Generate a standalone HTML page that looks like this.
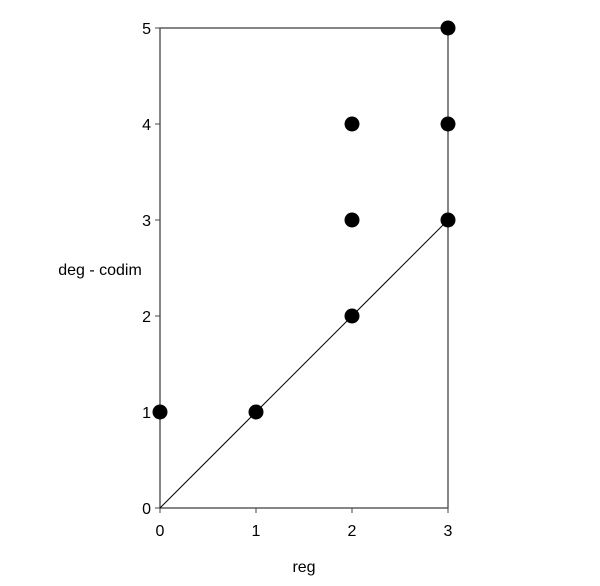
<!DOCTYPE html>
<html><head><meta charset="utf-8"><style>body{margin:0;background:#fff}svg{display:block;font-family:"Liberation Sans",sans-serif}</style></head>
<body>
<svg id="chart" width="600" height="586">
<g id="axes"></g>
<g id="marks"></g>
<text x="304" y="572" font-size="16" text-anchor="middle">reg</text>
<text x="100" y="275" font-size="16" text-anchor="middle">deg - codim</text>
</svg>
<script>
const xTicks=[0,1,2,3];
const yTicks=[0,1,2,3,4,5];
const ptX=[0,1,2,2,2,3,3,3];
const ptY=[1,1,2,3,4,3,4,5];
const lineX=[0,3];
const lineY=[0,3];
const NS="http://www.w3.org/2000/svg";
const X0=160,X1=448,Y0=508,Y1=28;
const sx=v=>X0+(v-0)/(3-0)*(X1-X0);
const sy=v=>Y0-(v-0)/(5-0)*(Y0-Y1);
const axes=document.getElementById('axes'),marks=document.getElementById('marks');
function mk(t,a,p){const e=document.createElementNS(NS,t);for(const k in a)e.setAttribute(k,a[k]);p.appendChild(e);return e;}
const box=mk('rect',{x:X0,y:Y1,width:X1-X0,height:Y0-Y1,fill:'none',stroke:'#444','stroke-width':1.3},axes);


xTicks.forEach(v=>{
 const l=mk('line',{x1:sx(v),x2:sx(v),y1:Y0,y2:Y0+5,stroke:'#444'},axes);
 
 
 const t=mk('text',{x:sx(v),y:Y0+28,'font-size':16,'text-anchor':'middle'},axes);t.textContent=v;
 
 
});
yTicks.forEach(v=>{
 const l=mk('line',{x1:X0-5,x2:X0,y1:sy(v),y2:sy(v),stroke:'#444'},axes);
 
 
 const t=mk('text',{x:X0-9,y:sy(v)+6,'font-size':16,'text-anchor':'end'},axes);t.textContent=v;
 
 
});
const ln=mk('line',{x1:sx(lineX[0]),y1:sy(lineY[0]),x2:sx(lineX[1]),y2:sy(lineY[1]),stroke:'#000','stroke-width':1},marks);


ptX.forEach((x,i)=>{
 const c=mk('circle',{cx:sx(x),cy:sy(ptY[i]),r:7.5,fill:'#000'},marks);
 
 
});
</script>
</body></html>
